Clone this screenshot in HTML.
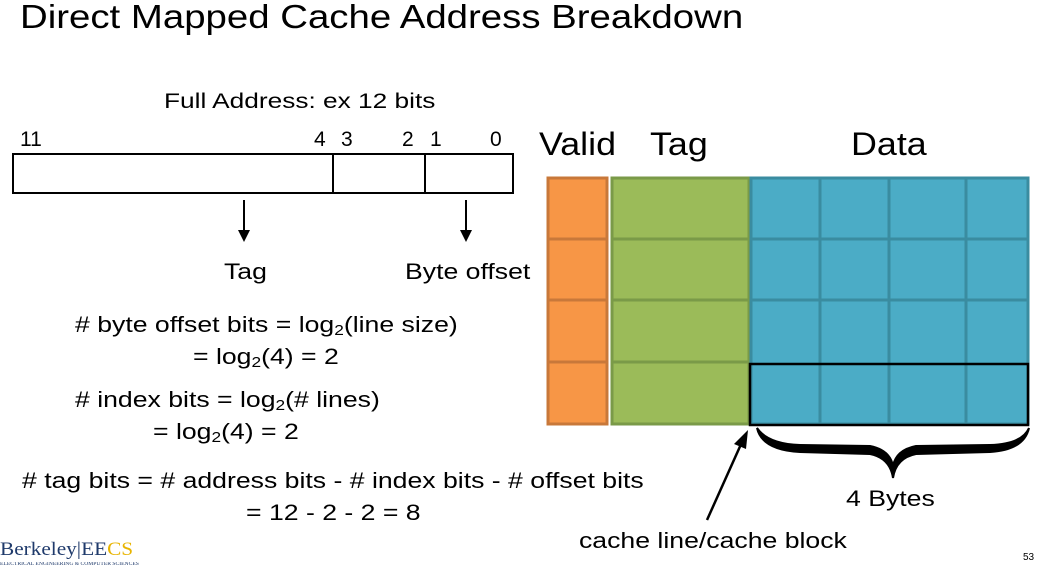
<!DOCTYPE html>
<html><head><meta charset="utf-8"><style>
body{margin:0;width:1040px;height:569px;background:#fff;overflow:hidden;position:relative;font-family:"Liberation Sans",sans-serif;color:#000}
.t{position:absolute;white-space:nowrap;line-height:1;transform-origin:0 0}
.s{transform:scaleX(1.21)}
.h{transform:scaleX(1.12)}
sub{font-size:0.65em;vertical-align:-0.2em}
</style></head><body>
<div class="t" style="left:20px;top:0px;font-size:33px;transform:scaleX(1.163)">Direct Mapped Cache Address Breakdown</div>
<div class="t" style="left:164px;top:91px;font-size:21px;transform:scaleX(1.25)">Full Address: ex 12 bits</div>
<div class="t" style="left:20px;top:129px;font-size:21px">11</div>
<div class="t" style="left:314px;top:129px;font-size:21px">4</div>
<div class="t" style="left:341px;top:129px;font-size:21px">3</div>
<div class="t" style="left:402px;top:129px;font-size:21px">2</div>
<div class="t" style="left:430px;top:129px;font-size:21px">1</div>
<div class="t" style="left:490px;top:129px;font-size:21px">0</div>
<div class="t h" style="left:539px;top:128px;font-size:32px">Valid</div>
<div class="t h" style="left:650px;top:128px;font-size:32px">Tag</div>
<div class="t h" style="left:851px;top:128px;font-size:32px">Data</div>
<div class="t s" style="left:224px;top:261px;font-size:22px">Tag</div>
<div class="t s" style="left:405px;top:261px;font-size:22px">Byte offset</div>
<div class="t s" style="left:75px;top:314px;font-size:22px"># byte offset bits = log<sub>2</sub>(line size)</div>
<div class="t s" style="left:193px;top:346px;font-size:22px">= log<sub>2</sub>(4) = 2</div>
<div class="t s" style="left:75px;top:389px;font-size:22px"># index bits = log<sub>2</sub>(# lines)</div>
<div class="t s" style="left:153px;top:421px;font-size:22px">= log<sub>2</sub>(4) = 2</div>
<div class="t s" style="left:22px;top:470px;font-size:22px"># tag bits = # address bits - # index bits - # offset bits</div>
<div class="t s" style="left:246px;top:502px;font-size:22px">= 12 - 2 - 2 = 8</div>
<div class="t s" style="left:846px;top:488px;font-size:22px">4 Bytes</div>
<div class="t s" style="left:579px;top:530px;font-size:22px">cache line/cache block</div>
<div class="t" style="left:1023px;top:553px;font-size:10px">53</div>
<div class="t" style="left:0px;top:540px;font-size:19px;font-family:'Liberation Serif',serif;color:#1f3a6b;transform:scaleX(1.12)">Berkeley<span style="color:#1f3a6b">|</span>EE<span style="color:#e8b400">CS</span></div>
<div class="t" style="left:0px;top:562px;font-size:5px;font-family:'Liberation Serif',serif;color:#1f3a6b;transform:scaleX(1.12)">ELECTRICAL ENGINEERING &amp; COMPUTER SCIENCES</div>
<svg width="1040" height="569" style="position:absolute;left:0;top:0">
<rect x="13" y="154" width="500" height="39" fill="none" stroke="#000" stroke-width="2"/>
<line x1="333" y1="154" x2="333" y2="193" stroke="#000" stroke-width="2"/>
<line x1="425" y1="154" x2="425" y2="193" stroke="#000" stroke-width="2"/>
<line x1="244" y1="200" x2="244" y2="232" stroke="#000" stroke-width="2"/>
<polygon points="238,230 250,230 244,242" fill="#000"/>
<line x1="466" y1="200" x2="466" y2="232" stroke="#000" stroke-width="2"/>
<polygon points="460,230 472,230 466,242" fill="#000"/>
<g stroke="#c8783a" stroke-width="3" fill="#f79646">
<rect x="548" y="178" width="59" height="61"/><rect x="548" y="239" width="59" height="61"/><rect x="548" y="300" width="59" height="62"/><rect x="548" y="362" width="59" height="62"/>
</g>
<g stroke="#7a9a48" stroke-width="3" fill="#9bbb59">
<rect x="612" y="178" width="137" height="61"/><rect x="612" y="239" width="137" height="61"/><rect x="612" y="300" width="137" height="62"/><rect x="612" y="362" width="137" height="62"/>
</g>
<rect x="750" y="177" width="279" height="247" fill="#4bacc6"/>
<g stroke="#3a8ca0" stroke-width="3" fill="none">
<rect x="751" y="178" width="277" height="246"/>
<line x1="820" y1="178" x2="820" y2="424"/><line x1="889" y1="178" x2="889" y2="424"/><line x1="966" y1="178" x2="966" y2="424"/>
<line x1="751" y1="239" x2="1028" y2="239"/><line x1="751" y1="300" x2="1028" y2="300"/>
</g>
<rect x="750" y="364" width="278" height="61" fill="none" stroke="#000" stroke-width="2.5"/>
<line x1="707" y1="520" x2="742" y2="442" stroke="#000" stroke-width="2.5"/>
<polygon points="748,430 734,444 746,449" fill="#000"/>
<path d="M757,428 Q762,450 800,452 L870,454 Q890,458 893,478 Q896,458 916,454 L990,452 Q1024,450 1029,428 Q1022,444 990,445 L916,446 Q896,450 893,466 Q890,450 870,446 L800,445 Q768,444 757,428 Z" fill="#000" stroke="#000" stroke-width="2"/>
</svg>
</body></html>
